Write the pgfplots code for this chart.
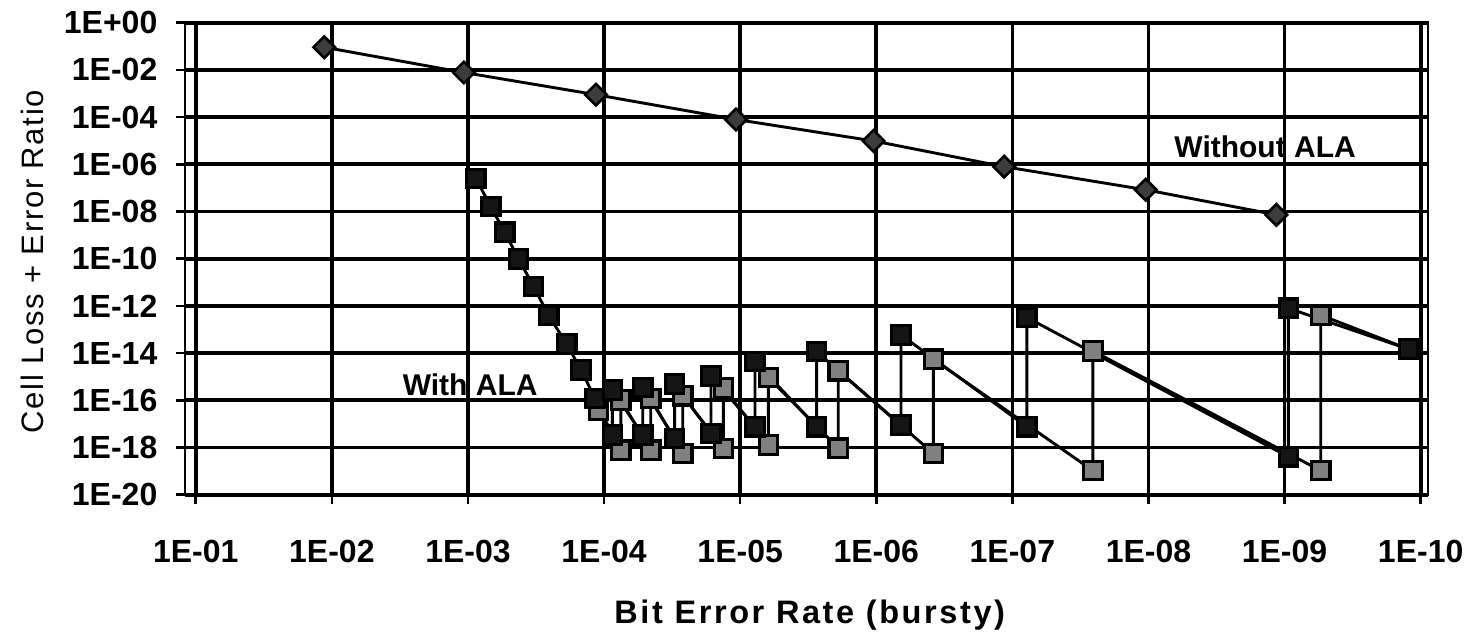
\documentclass[border=0pt]{standalone}
\usepackage{fontspec}
\setmainfont{Liberation Sans}
\newfontfamily\xtitlefont[LetterSpace=8]{Liberation Sans}
\newfontfamily\ytitlefont[LetterSpace=5.5]{Liberation Sans}
\usepackage{pgfplots}
\pgfplotsset{compat=1.18}
\definecolor{sqblack}{HTML}{151515}
\definecolor{sqgrey}{HTML}{808080}
\definecolor{dmgrey}{HTML}{3C3C3C}
\begin{document}
\begin{tikzpicture}
\path[use as bounding box] (-92.5pt,-68.65pt) rectangle (643.5pt,247.35pt);
\begin{axis}[
  at={(0pt,0pt)}, anchor=south west,
  scale only axis, width=621.5pt, height=236pt,
  xmode=log, ymode=log, x dir=reverse,
  xmin=8.83e-11, xmax=0.12, ymin=1e-20, ymax=1,
  xtick={1e-1,1e-2,1e-3,1e-4,1e-5,1e-6,1e-7,1e-8,1e-9,1e-10},
  xticklabels={1E-01,1E-02,1E-03,1E-04,1E-05,1E-06,1E-07,1E-08,1E-09,1E-10},
  ytick={1,1e-2,1e-4,1e-6,1e-8,1e-10,1e-12,1e-14,1e-16,1e-18,1e-20},
  yticklabels={1E+00,1E-02,1E-04,1E-06,1E-08,1E-10,1E-12,1E-14,1E-16,1E-18,1E-20},
  xminorticks=false, yminorticks=false,
  grid=major, major grid style={black, line width=1.85pt},
  axis line style={black, line width=1.3pt},
  tick align=center, major tick length=9pt,
  xtick pos=left, ytick pos=left,
  tick style={black, line width=1.3pt},
  ticklabel style={font=\bfseries\fontsize{16}{19}\selectfont, inner sep=0pt},
  xticklabel style={anchor=north, yshift=-18pt},
  yticklabel style={anchor=east, xshift=-9.15pt},
  xlabel={Bit Error Rate (bursty)},
  xlabel style={at={(axis description cs:0.5026,0)}, anchor=base, yshift=-64.3pt, inner sep=0pt, font=\xtitlefont\bfseries\fontsize{16.25}{19}\selectfont},
  ylabel={Cell Loss + Error Ratio},
  ylabel style={at={(axis description cs:-0.1230,0.4936)}, anchor=center, inner sep=0pt, font=\ytitlefont\fontsize{15.5}{18}\selectfont},
]
% Without ALA
\addplot[black, line width=1.45pt, mark=square*, mark size=3.8pt,
  mark options={rotate=45, fill=dmgrey, draw=black, line width=1.3pt, solid}] coordinates {
  (1.138e-2, 9.12e-2)
  (1.072e-3, 7.76e-3)
  (1.148e-4, 8.91e-4)
  (1.072e-5, 7.94e-5)
  (1.047e-6, 9.77e-6)
  (1.148e-7, 7.94e-7)
  (1.047e-8, 8.32e-8)
  (1.148e-9, 7.24e-9)
};
% With ALA (grey)
\addplot[black, line width=1.45pt, mark=square*, mark size=4.6pt,
  mark options={fill=sqgrey, draw=black, line width=1.6pt, solid}] coordinates {
  (1.102e-4, 3.89e-17)
  (7.53e-5, 7.76e-19) (7.53e-5, 1.023e-16)
  (4.54e-5, 7.76e-19) (4.54e-5, 1.202e-16)
  (2.64e-5, 5.62e-19) (2.64e-5, 1.549e-16)
  (1.327e-5, 9.12e-19) (1.327e-5, 3.31e-16)
  (6.21e-6, 1.288e-18) (6.21e-6, 9.33e-16)
  (1.901e-6, 9.33e-19) (1.901e-6, 1.778e-15)
  (3.81e-7, 5.62e-19) (3.81e-7, 5.50e-15)
  (2.56e-8, 1.047e-19) (2.56e-8, 1.230e-14)
  (5.42e-10, 1.047e-19) (5.42e-10, 4.07e-13)
  (1.230e-10, 1.479e-14)
};
% With ALA (black)
\addplot[black, line width=1.45pt, mark=square*, mark size=4.6pt,
  mark options={fill=sqblack, draw=black, line width=1.6pt, solid}] coordinates {
  (8.77e-4, 2.55e-7)
  (6.79e-4, 1.60e-8)
  (5.37e-4, 1.315e-9)
  (4.24e-4, 9.70e-11)
  (3.29e-4, 6.52e-12)
  (2.55e-4, 3.85e-13)
  (1.88e-4, 2.43e-14)
  (1.476e-4, 1.92e-15)
  (1.164e-4, 1.216e-16)
  (8.69e-5, 3.39e-18) (8.69e-5, 2.75e-16)
  (5.20e-5, 3.39e-18) (5.20e-5, 3.55e-16)
  (3.03e-5, 2.45e-18) (3.03e-5, 4.90e-16)
  (1.637e-5, 3.98e-18) (1.637e-5, 1.072e-15)
  (7.78e-6, 7.59e-18) (7.78e-6, 4.37e-15)
  (2.74e-6, 7.59e-18) (2.74e-6, 1.148e-14)
  (6.58e-7, 8.91e-18) (6.58e-7, 5.89e-14)
  (7.83e-8, 7.59e-18) (7.83e-8, 3.24e-13)
  (9.38e-10, 4.07e-19) (9.38e-10, 7.94e-13)
  (1.230e-10, 1.479e-14)
};
\node[font=\bfseries\fontsize{15}{18}\selectfont] at (axis cs:1.39e-9,5.41e-6) {Without ALA};
\node[font=\bfseries\fontsize{15}{18}\selectfont] at (axis cs:9.64e-4,4.37e-16) {With ALA};
\end{axis}
\end{tikzpicture}
\end{document}
